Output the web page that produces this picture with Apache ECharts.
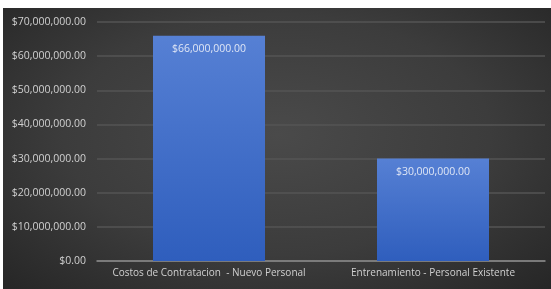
<!DOCTYPE html>
<html>
<head>
<meta charset="utf-8">
<script src="https://cdn.jsdelivr.net/npm/echarts@6/dist/echarts.min.js"></script>
<style>
  html, body { margin: 0; padding: 0; background: #fff; }
  #chart {
    position: absolute; left: 3px; top: 8px; width: 548px; height: 281px;
    background: radial-gradient(ellipse at 50% 45%, #4a4a4a 0%, #3c3c3c 55%, #262626 100%);
  }
</style>
</head>
<body>
<div id="chart"></div>
<script>
// datos
const categories = ['Costos de Contratacion  - Nuevo Personal', 'Entrenamiento - Personal Existente']
const costs = [66000000, 30000000]
const yMax = 70000000
const yStep = 10000000

function money(v) {
  return '$' + Number(v).toLocaleString('en-US', { minimumFractionDigits: 2, maximumFractionDigits: 2 })
}

const chart = echarts.init(document.getElementById('chart'))
const font = 'Open Sans, sans-serif'
const option = {
  backgroundColor: 'transparent',
  animation: false,
  grid: { left: 94, right: 6, top: 14, bottom: 28 },
  xAxis: {
    type: 'category',
    data: categories,
    axisTick: { show: false },
    axisLine: { lineStyle: { color: '#8c8c8c', width: 1.5 } },
    axisLabel: { color: '#d0d0d0', fontFamily: font, fontSize: 10, margin: 7, interval: 0, hideOverlap: false }
  },
  yAxis: {
    type: 'value',
    min: 0,
    max: yMax,
    interval: yStep,
    axisLine: { show: false },
    axisTick: { show: false },
    splitLine: { lineStyle: { color: '#545454', width: 1.5 } },
    axisLabel: { color: '#d0d0d0', fontFamily: font, fontSize: 10.5, margin: 11, formatter: money }
  },
  series: [
    {
      type: 'bar',
      data: costs,
      barWidth: '50%',
      itemStyle: {
        color: new echarts.graphic.LinearGradient(0, 0, 0, 1, [
          { offset: 0, color: '#5680d4' },
          { offset: 1, color: '#2f5ebd' }
        ])
      },
      label: {
        show: true,
        position: 'insideTop',
        distance: 8,
        color: '#dfe6f5',
        fontFamily: font,
        fontSize: 10.5,
        formatter: p => money(p.value)
      }
    }
  ]
}
chart.setOption(option)
</script>
</body>
</html>
